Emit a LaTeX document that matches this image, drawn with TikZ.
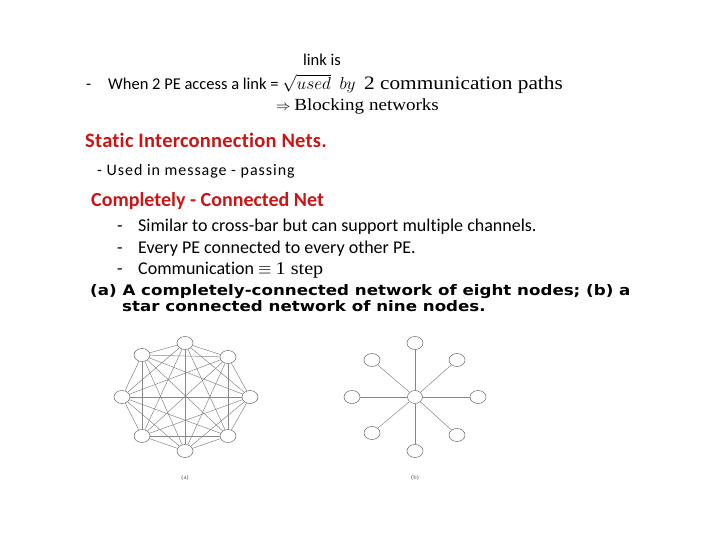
\documentclass[tikz,border=0pt]{standalone}
\usepackage{fontspec}
\usepackage{amsmath}
\setmainfont[Ligatures=NoCommon]{Carlito}
\newfontfamily\serif[FakeStretch=1.12]{Liberation Serif}
\newfontfamily\verdana[FakeStretch=1.15]{DejaVu Sans}
\newfontfamily\spaced[LetterSpace=6,Ligatures=NoCommon]{Carlito}
\newfontfamily\headfont[LetterSpace=1.1,Ligatures=NoCommon]{Carlito}
\usetikzlibrary{shapes}
\definecolor{slide_red}{RGB}{204, 20, 20}
\definecolor{net_gray}{RGB}{135, 135, 135}
\tikzstyle{pe}=[ellipse,draw=net_gray!80!black,fill=white,
  line width=0.5pt,inner sep=0pt,minimum width=16pt,minimum height=13pt]
\tikzstyle{hub}=[pe,minimum width=15pt,minimum height=13pt]
\tikzstyle{wire}=[draw=net_gray,line width=0.5pt]
\tikzstyle{body}=[anchor=base west,inner sep=0pt,font=\fontsize{16.5}{19}\selectfont]
\tikzstyle{bullet}=[anchor=base west,inner sep=0pt,font=\fontsize{18}{21}\selectfont]
\tikzstyle{heading}=[anchor=base west,inner sep=0pt,text=slide_red,
  font=\bfseries\fontsize{20}{24}\selectfont]
\tikzstyle{figcap}=[anchor=base west,inner sep=0pt,
  font=\verdana\bfseries\fontsize{14.5}{17}\selectfont]
\tikzstyle{sublabel}=[inner sep=0pt,text=gray!70!black,font=\serif\fontsize{6}{7}\selectfont]

\begin{document}
\begin{tikzpicture}[x=1pt,y=-1pt]
    \useasboundingbox (0,0) rectangle (720,540);
    % text of the slide
    \node [style=body,anchor=base] (linkis) at (322,66) {link is};
    \node [style=body] (dash0) at (86,90) {-};
    \node [style=body] (when) at (108,90) {When 2 PE access a link = {\fontsize{19}{21}\selectfont$\sqrt{used}\ \ by$\ \ {\serif 2 communication paths}}};
    \node [style=body,font=\fontsize{17}{20}\selectfont] (block) at (276,111) {{\fontsize{14}{14}\selectfont$\Rightarrow$} {\serif Blocking networks}};
    \node [style=heading,font=\headfont\bfseries\fontsize{20.5}{24}\selectfont] (static) at (85,148) {Static Interconnection Nets.};
    \node [style=body,font=\fontsize{16}{19}\selectfont] (used) at (97,176) {\spaced - Used in message - passing};
    \node [style=heading] (complete) at (91,207) {Completely - Connected Net};
    \node [style=bullet] (dash1) at (117,231) {-};
    \node [style=bullet] (similar) at (138,231) {Similar to cross-bar but can support multiple channels.};
    \node [style=bullet] (dash2) at (117,253) {-};
    \node [style=bullet] (every) at (138,253) {Every PE connected to every other PE.};
    \node [style=bullet] (dash3) at (117,274) {-};
    \node [style=bullet] (comm) at (138,274) {Communication $\equiv$ {\serif 1 step}};
    \node [style=figcap] (cap1) at (90,295) {(a) A completely-connected network of eight nodes; (b) a};
    \node [style=figcap] (cap2) at (122,311) {star connected network of nine nodes.};
    % (a) completely connected
    \node [style=pe] (n0) at (185,343) {};
    \node [style=pe] (n1) at (228,357) {};
    \node [style=pe] (n2) at (250,397) {};
    \node [style=pe] (n3) at (228,436) {};
    \node [style=pe] (n4) at (185,451) {};
    \node [style=pe] (n5) at (142,436) {};
    \node [style=pe] (n6) at (122,397) {};
    \node [style=pe] (n7) at (142,355) {};
    \foreach \i in {0,...,7}
      \foreach \j in {0,...,7}
        {\ifnum\i<\j \draw [style=wire] (n\i) to (n\j); \fi}
    \node [style=sublabel] (laba) at (185,478) {(a)};
    % (b) star
    \node [style=hub] (hub) at (415,397) {};
    \node [style=pe] (s0) at (415,343) {};
    \node [style=pe] (s1) at (457,360) {};
    \node [style=pe] (s2) at (478,397) {};
    \node [style=pe] (s3) at (457,435) {};
    \node [style=pe] (s4) at (415,451) {};
    \node [style=pe] (s5) at (372,433) {};
    \node [style=pe] (s6) at (352,397) {};
    \node [style=pe] (s7) at (372,360) {};
    \foreach \k in {0,...,7}
      \draw [style=wire] (hub) to (s\k);
    \node [style=sublabel] (labb) at (415,478) {(b)};
  \end{tikzpicture}
\end{document}
